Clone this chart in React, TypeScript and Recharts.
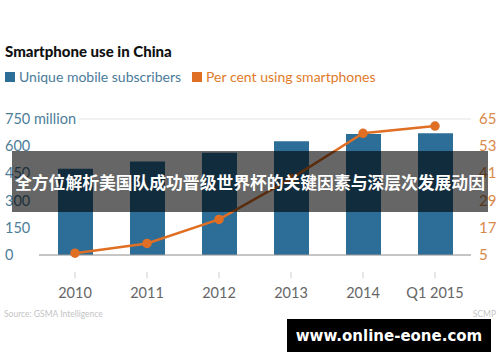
import { ComposedChart, Bar, Line, XAxis, YAxis, CartesianGrid, Legend } from 'recharts';

const years = ['2010', '2011', '2012', '2013', '2014', 'Q1 2015'];
const subscribers = [475, 515, 564, 627, 667, 672];
const smartphoneShare = [5.8, 10.1, 20.7, 38.7, 58.7, 61.9];
const leftTicks = [0, 150, 300, 450, 600, 750];
const rightTicks = [5, 17, 29, 41, 53, 65];

const BAR_COLOR = '#2c6e98';
const LINE_COLOR = '#df6f24';
const FONT = 'Lato, "Open Sans", sans-serif';

const data = years.map((year, i) => ({
  year,
  subscribers: subscribers[i],
  share: smartphoneShare[i],
}));

const LeftTick = ({ y, payload }: any) => {
  const label = payload.value === 750 ? '750 million' : String(payload.value);
  return (
    <g>
      <rect x={0} y={y - 10} width={label.length * 6.4 + 8} height={20} fill="#fff" />
      <text x={5} y={y} dy={5} fill="#4d7d98" fontSize={14.5} fontFamily={FONT}>
        {label}
      </text>
    </g>
  );
};

const RightTick = ({ y, payload }: any) => (
  <text x={479} y={y} dy={5} fill="#d9894a" fontSize={15} fontFamily={FONT}>
    {payload.value}
  </text>
);

const YearTick = ({ x, y, payload }: any) => (
  <g>
    <line x1={x} x2={x} y1={y + 9} y2={y + 15} stroke="#cfcfcf" strokeWidth={1} />
    <text x={x} y={y + 30} dy={5} textAnchor="middle" fill="#666" fontSize={14.5} fontFamily={FONT}>
      {payload.value}
    </text>
  </g>
);

const LegendContent = () => (
  <div style={{ display: 'flex', alignItems: 'center', fontFamily: FONT, fontSize: 14 }}>
    <span style={{ width: 10, height: 10, background: BAR_COLOR, marginRight: 4 }} />
    <span style={{ color: '#4a7b99', marginRight: 11 }}>Unique mobile subscribers</span>
    <span style={{ width: 10, height: 10, background: LINE_COLOR, marginRight: 4 }} />
    <span style={{ color: '#e07b2a' }}>Per cent using smartphones</span>
  </div>
);

export default function App() {
  return (
    <div style={{ position: 'absolute', left: 0, top: 0, width: 500, height: 362, background: '#fff', overflow: 'hidden' }}>
      <div style={{ position: 'absolute', left: 5, top: 42, fontFamily: FONT, fontWeight: 900, fontSize: 15, color: '#111' }}>
        Smartphone use in China
      </div>
      <ComposedChart width={500} height={362} data={data} margin={{ top: 102, right: 0, bottom: 57, left: 0 }}>
        <CartesianGrid vertical={false} stroke="#e3e3e3" />
        <Legend verticalAlign="top" content={<LegendContent />} wrapperStyle={{ position: 'absolute', left: 5, top: 68 }} />
        <XAxis dataKey="year" height={50} axisLine={{ stroke: '#9a9a9a' }} tickLine={false} tick={<YearTick />} interval={0} />
        <YAxis yAxisId="left" orientation="left" width={39} domain={[0, 750]} ticks={leftTicks} axisLine={false} tickLine={false} tick={<LeftTick />} />
        <YAxis yAxisId="right" orientation="right" width={29} domain={[5, 65]} ticks={rightTicks} axisLine={false} tickLine={false} tick={<RightTick />} />
        <Bar yAxisId="left" dataKey="subscribers" fill={BAR_COLOR} barSize={35} isAnimationActive={false} />
        <Line yAxisId="right" dataKey="share" stroke={LINE_COLOR} strokeWidth={2.5} dot={{ r: 3.5, fill: LINE_COLOR, stroke: LINE_COLOR }} isAnimationActive={false} />
      </ComposedChart>
      <div style={{ position: 'absolute', left: 4, top: 309, fontFamily: FONT, fontSize: 8.5, color: '#c4c4c4' }}>
        Source: GSMA Intelligence
      </div>
      <div style={{ position: 'absolute', right: 4, top: 309, fontFamily: FONT, fontSize: 8.5, color: '#c4c4c4' }}>
        SCMP
      </div>
      <div style={{ position: 'absolute', left: 12, top: 151, width: 476, height: 61, background: 'rgba(0,0,0,0.6)', display: 'flex', alignItems: 'center', justifyContent: 'center' }}>
        <span style={{ fontFamily: '"Noto Sans CJK SC", sans-serif', fontWeight: 700, fontSize: 16.8, color: '#fff', whiteSpace: 'nowrap' }}>
          全方位解析美国队成功晋级世界杯的关键因素与深层次发展动因
        </span>
      </div>
      <div style={{ position: 'absolute', left: 287, top: 319, width: 204, height: 33, background: '#000', display: 'flex', alignItems: 'center', justifyContent: 'center' }}>
        <span style={{ fontFamily: '"DejaVu Sans", sans-serif', fontWeight: 700, fontSize: 15, color: '#fff' }}>
          www.online-eone.com
        </span>
      </div>
    </div>
  );
}
